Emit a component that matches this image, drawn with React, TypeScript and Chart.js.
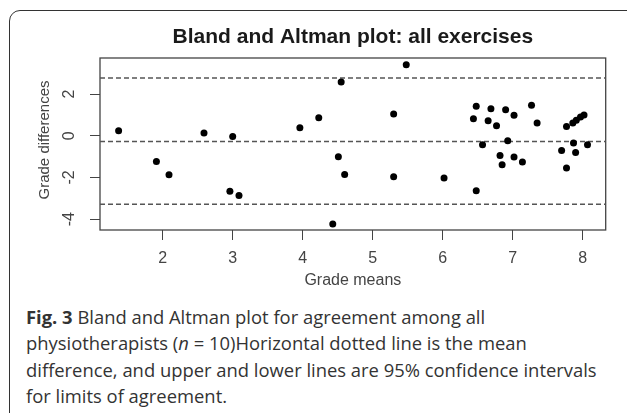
import React, { useEffect, useRef } from 'react';
import { Chart, registerables } from 'chart.js';

Chart.register(...registerables);

// Bland–Altman data: grade means (x) and grade differences (y)
const gradeMeans = [
  1.37, 1.91, 2.09, 2.59, 3.0, 2.96, 3.09, 3.96, 4.23, 4.55, 4.51, 4.6, 4.43,
  5.3, 5.3, 5.48, 6.02, 6.44, 6.48, 6.57, 6.48, 6.65, 6.69, 6.77, 6.82, 6.85,
  6.9, 6.93, 7.02, 7.02, 7.14, 7.27, 7.35, 7.7, 7.77, 7.77, 7.86, 7.87, 7.9,
  7.91, 7.97, 8.02, 8.07,
];
const gradeDiffs = [
  0.24, -1.23, -1.87, 0.13, -0.03, -2.66, -2.87, 0.38, 0.87, 2.58, -1.01, -1.86,
  -4.23, 1.04, -1.97, 3.41, -2.03, 0.82, 1.41, -0.43, -2.64, 0.72, 1.3, 0.48,
  -0.95, -1.39, 1.25, -0.24, 0.98, -1.02, -1.26, 1.46, 0.61, -0.71, -1.55, 0.45,
  0.61, -0.35, -0.8, 0.74, 0.9, 1.0, -0.43,
];
// upper limit of agreement, mean difference, lower limit of agreement
const limitValues = [2.77, -0.27, -3.28];
const xTicks = [2, 3, 4, 5, 6, 7, 8];
const yTicks = [-4, -2, 0, 2];
const xRange = [1.104, 8.33];
const yRange = [-4.52, 3.73];
const titleText = 'Bland and Altman plot: all exercises';
const xTitle = 'Grade means';
const yTitle = 'Grade differences';

const FONT = '"Liberation Sans", Arial, Helvetica, sans-serif';

const rPlugin = {
  id: 'rStyle',
  beforeDatasetsDraw(chart: any) {
    const { ctx, chartArea: a } = chart;
    ctx.save();
    ctx.strokeStyle = '#444';
    ctx.lineWidth = 1.3;
    ctx.strokeRect(a.left, a.top, a.right - a.left, a.bottom - a.top);
    ctx.restore();
  },
  afterDraw(chart: any) {
    const { ctx, chartArea: a } = chart;
    const x = chart.scales.x;
    const y = chart.scales.y;
    const cx = (a.left + a.right) / 2;
    ctx.save();
    ctx.textAlign = 'center';
    ctx.textBaseline = 'middle';
    ctx.fillStyle = '#1a1a1a';
    ctx.font = `bold 21px ${FONT}`;
    ctx.fillText(titleText, cx, 37);

    ctx.fillStyle = '#444';
    ctx.font = `16px ${FONT}`;
    xTicks.forEach((v) => ctx.fillText(String(v), x.getPixelForValue(v), 259));
    ctx.fillText(xTitle, cx, 281);
    yTicks.forEach((v) => {
      ctx.save();
      ctx.translate(70, y.getPixelForValue(v));
      ctx.rotate(-Math.PI / 2);
      ctx.fillText(String(v), 0, 0);
      ctx.restore();
    });
    ctx.save();
    ctx.font = `15px ${FONT}`;
    ctx.translate(45, 140);
    ctx.rotate(-Math.PI / 2);
    ctx.fillText(yTitle, 0, 0);
    ctx.restore();
    ctx.restore();
  },
};

export default function App() {
  const canvasRef = useRef<HTMLCanvasElement | null>(null);

  useEffect(() => {
    if (!canvasRef.current) return;
    const points = gradeMeans.map((m, i) => ({ x: m, y: gradeDiffs[i] }));
    const lineSets = limitValues.map((v) => ({
      type: 'line' as const,
      data: [
        { x: xRange[0], y: v },
        { x: xRange[1], y: v },
      ],
      borderColor: '#555',
      borderWidth: 1.5,
      borderDash: [5, 3],
      pointRadius: 0,
      fill: false,
      showLine: true,
    }));
    const chart = new Chart(canvasRef.current, {
      type: 'scatter',
      data: {
        datasets: [
          {
            data: points,
            backgroundColor: '#000',
            borderColor: '#000',
            borderWidth: 0,
            pointRadius: 3.5,
            pointHoverRadius: 3.5,
          },
          ...lineSets,
        ] as any,
      },
      options: {
        animation: false,
        responsive: false,
        events: [],
        layout: { padding: { top: 58, right: 21.3, bottom: 0, left: 0 } },
        plugins: { legend: { display: false }, tooltip: { enabled: false }, title: { display: false } },
        scales: {
          x: {
            type: 'linear',
            min: xRange[0],
            max: xRange[1],
            afterBuildTicks: (s: any) => {
              s.ticks = xTicks.map((v) => ({ value: v }));
            },
            afterFit: (s: any) => {
              s.height = 70;
            },
            ticks: { display: false },
            border: { display: false },
            grid: { drawOnChartArea: false, drawTicks: true, tickLength: 10, color: '#444', lineWidth: 1 },
          },
          y: {
            type: 'linear',
            min: yRange[0],
            max: yRange[1],
            afterBuildTicks: (s: any) => {
              s.ticks = yTicks.map((v) => ({ value: v }));
            },
            afterFit: (s: any) => {
              s.width = 100;
            },
            ticks: { display: false },
            border: { display: false },
            grid: { drawOnChartArea: false, drawTicks: true, tickLength: 10, color: '#444', lineWidth: 1 },
          },
        },
      },
      plugins: [rPlugin],
    });
    return () => chart.destroy();
  }, []);

  return (
    <div
      style={{
        position: 'fixed',
        left: 0,
        top: 0,
        width: 627,
        height: 413,
        overflow: 'hidden',
        background: '#fff',
      }}
    >
      <div
        style={{
          position: 'absolute',
          left: 8.5,
          top: 9.5,
          width: 680,
          height: 460,
          border: '1.5px solid #333',
          borderRadius: 11,
          boxSizing: 'border-box',
        }}
      />
      <canvas
        ref={canvasRef}
        width={627}
        height={300}
        style={{ position: 'absolute', left: 0, top: 0, width: 627, height: 300 }}
      />
      <div
        style={{
          position: 'absolute',
          left: 26,
          top: 304,
          fontFamily: '"Open Sans", sans-serif',
          fontSize: 18.4,
          lineHeight: '26.3px',
          color: '#333',
          whiteSpace: 'nowrap',
        }}
      >
        <b>Fig. 3</b> Bland and Altman plot for agreement among all
        <br />
        physiotherapists (<i>n</i> = 10)Horizontal dotted line is the mean
        <br />
        difference, and upper and lower lines are 95% confidence intervals
        <br />
        for limits of agreement.
      </div>
    </div>
  );
}
